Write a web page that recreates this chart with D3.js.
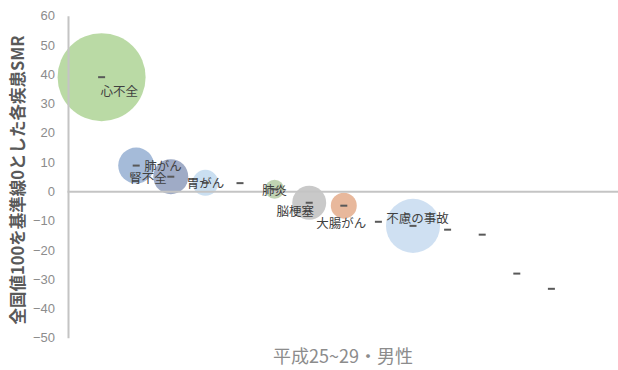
<!DOCTYPE html>
<html>
<head>
<meta charset="utf-8">
<script src="https://cdn.jsdelivr.net/npm/d3@7"></script>
<style>
  html, body { margin: 0; padding: 0; background: #fff; }
  svg { display: block; }
  text { font-family: "Noto Sans CJK JP", "Noto Sans", sans-serif; }
</style>
</head>
<body>
<svg id="chart" width="618" height="370"></svg>
<script>
// Disease rank (x), SMR relative to national value 100 (y), bubble weight
const ranks    = [1, 2, 3, 4, 5, 6, 7, 8, 9, 10, 11, 12, 13, 14];
const labels   = ["心不全", "肺がん", "腎不全", "胃がん", "", "肺炎", "脳梗塞", "大腸がん", "", "不慮の事故", "", "", "", ""];
const smr      = [39.0, 8.8, 5.0, 2.9, 2.8, 0.7, -3.9, -4.9, -10.4, -11.8, -13.1, -14.8, -28.1, -33.3];
const weights  = [100, 16.7, 15.8, 8.7, 0, 4.7, 14.9, 8.7, 0, 37.7, 0, 0, 0, 0];
const yTicks   = [60, 50, 40, 30, 20, 10, 0, -10, -20, -30, -40, -50];

const yTitle = "全国値100を基準線0とした各疾患SMR";
const xTitle = "平成25~29・男性";

// Bubble fills, one per point
const fills = ["#a9d18e", "#8eaad0", "#8796b8", "#bdd7ee", "none", "#b0c8a0",
               "#bcbcbc", "#e2a683", "none", "#c3d8ef", "none", "none", "none", "none"];

// Data-label placement around each point (pixels, text anchor)
const labelPlacement = [
  { dx: -1,  dy: 13.5, anchor: "start" },
  { dx: 8,   dy: 0,    anchor: "start" },
  { dx: -4,  dy: 1,    anchor: "end" },
  { dx: 0,   dy: 0,    anchor: "middle" },
  null,
  { dx: 0,   dy: 0,    anchor: "middle" },
  { dx: -14, dy: 8,    anchor: "middle" },
  { dx: -2.5,dy: 16.5, anchor: "middle" },
  null,
  { dx: 4.5, dy: -8.5, anchor: "middle" },
  null, null, null, null
];

const points = ranks.map((r, i) => ({
  rank: r, label: labels[i], smr: smr[i], weight: weights[i],
  fill: fills[i], place: labelPlacement[i]
}));

const svg = d3.select("#chart");

const x = d3.scaleLinear().domain([0, 16]).range([67, 620.6]);
const y = d3.scaleLinear().domain([-50, 60]).range([337.7, 15.7]);
const r = d3.scaleSqrt().domain([0, 100]).range([0, 44]);

// Bubbles
svg.append("g").selectAll("circle")
  .data(points.filter(d => d.weight > 0))
  .join("circle")
  .attr("cx", d => x(d.rank))
  .attr("cy", d => y(d.smr))
  .attr("r", d => r(d.weight))
  .attr("fill", d => d.fill)
  .attr("fill-opacity", 0.8);

// Y axis (vertical line + tick labels)
const yAxis = d3.axisLeft(y).tickValues(yTicks).tickSize(0).tickPadding(13);
const gy = svg.append("g").attr("transform", `translate(${x(0) + 1},0)`).call(yAxis);
gy.select(".domain").attr("stroke", "#c4c4c4").attr("stroke-width", 2);
gy.selectAll(".tick text")
  .attr("fill", "#8c8c8c")
  .style("font-size", "13px")
  .style("font-family", "'Liberation Sans', 'Noto Sans', sans-serif");

// Horizontal baseline at SMR 0
const xAxis = d3.axisBottom(x).tickValues([]).tickSize(0).tickSizeOuter(0);
const gx = svg.append("g").attr("transform", `translate(0,${y(0)})`).call(xAxis);
gx.select(".domain").attr("stroke", "#c4c4c4").attr("stroke-width", 2);

// Dash markers
svg.append("g").selectAll("rect")
  .data(points)
  .join("rect")
  .attr("x", d => x(d.rank) - 3.5)
  .attr("y", d => y(d.smr) - 1)
  .attr("width", 7)
  .attr("height", 2)
  .attr("fill", "#595959");

// Data labels
svg.append("g").selectAll("text")
  .data(points.filter(d => d.label && d.place))
  .join("text")
  .attr("x", d => x(d.rank) + d.place.dx)
  .attr("y", d => y(d.smr) + d.place.dy)
  .attr("text-anchor", d => d.place.anchor)
  .attr("dominant-baseline", "central")
  .attr("fill", "#404040")
  .style("font-size", "12.5px")
  .text(d => d.label);

// Axis titles
svg.append("text")
  .attr("transform", "translate(17,180) rotate(-90)")
  .attr("text-anchor", "middle")
  .attr("dominant-baseline", "central")
  .attr("fill", "#595959")
  .style("font-size", "16.5px")
  .style("font-weight", "bold")
  .text(yTitle);

svg.append("text")
  .attr("x", 343)
  .attr("y", 355)
  .attr("text-anchor", "middle")
  .attr("dominant-baseline", "central")
  .attr("fill", "#8c8c8c")
  .style("font-size", "18px")
  .text(xTitle);
</script>
</body>
</html>
